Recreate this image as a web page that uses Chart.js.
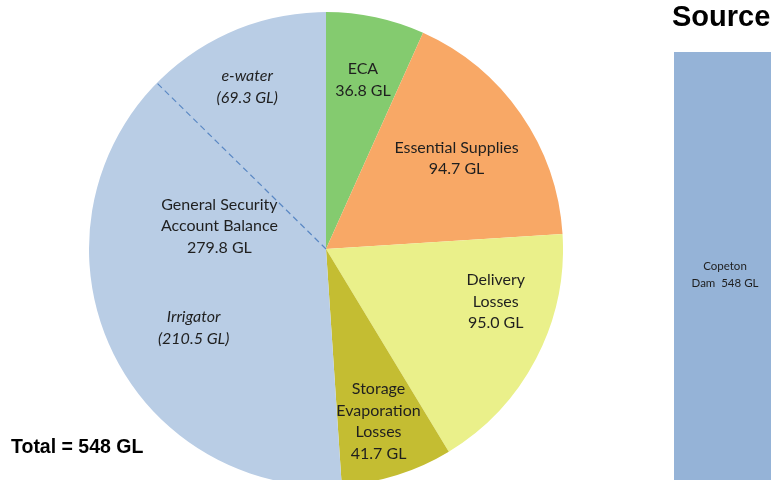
<!DOCTYPE html>
<html>
<head>
<meta charset="utf-8">
<script src="https://cdn.jsdelivr.net/npm/chart.js@4"></script>
<style>
  html, body { margin: 0; padding: 0; background: #fff; }
  body { width: 771px; height: 480px; position: relative; overflow: hidden; }
  #pieBox { position: absolute; left: 89px; top: 12px; width: 474px; height: 474px; }
  #barBox { position: absolute; left: 674px; top: 0; width: 102px; height: 496px; }
  .total { position: absolute; left: 11px; top: 435px; font: bold 19.5px "Liberation Sans", Arial, sans-serif; color: #000; }
  .source { position: absolute; left: 672px; top: 0px; font: bold 29px "Liberation Sans", Arial, sans-serif; color: #000; white-space: nowrap; }
</style>
</head>
<body>
<div id="pieBox"><canvas id="pie" width="474" height="474"></canvas></div>
<div id="barBox"><canvas id="bar" width="102" height="496"></canvas></div>
<div class="total">Total = 548 GL</div>
<div class="source">Source</div>
<script>
// ---- data (GL) ----
const categories = ["ECA", "Essential Supplies", "Delivery Losses", "Storage Evaporation Losses", "General Security Account Balance"];
const volumes = [36.8, 94.7, 95.0, 41.7, 279.8];
const labelLines = [["ECA"], ["Essential Supplies"], ["Delivery", "Losses"], ["Storage", "Evaporation", "Losses"], ["General Security", "Account Balance"]];
const splitNames = ["e-water", "Irrigator"];   // parts of General Security
const splitVolumes = [69.3, 210.5];
const sourceNames = ["Copeton Dam"];
const sourceVolumes = [548];

const colors = ["#84CB6F", "#F8A866", "#EAF08A", "#C4BD32", "#B9CDE5"];
// label placement: [fraction along arc, fraction of radius]
const labelSpots = [[0.51, 0.73], [0.5, 0.67], [0.335, 0.75], [0.52, 0.76], [0.576, 0.46]];
const splitSpots = [[0.43, 0.76], [0.456, 0.65]];

const FONT = '16px Lato, "Open Sans", sans-serif';
const LINE_H = 21.5;

function drawLines(ctx, lines, x, y, font) {
  ctx.font = font;
  const top = y - (lines.length - 1) * LINE_H / 2;
  lines.forEach((t, i) => ctx.fillText(t, x, top + i * LINE_H));
}

const pieLabels = {
  id: "pieLabels",
  afterDatasetsDraw(chart) {
    const ctx = chart.ctx;
    const arcs = chart.getDatasetMeta(0).data;
    ctx.save();
    ctx.fillStyle = "#1f1f1f";
    ctx.textAlign = "center";
    ctx.textBaseline = "middle";

    arcs.forEach((arc, i) => {
      const [af, rf] = labelSpots[i];
      const a = arc.startAngle + af * (arc.endAngle - arc.startAngle);
      const r = rf * arc.outerRadius;
      const lines = labelLines[i].concat([volumes[i].toFixed(1) + " GL"]);
      drawLines(ctx, lines, arc.x + r * Math.cos(a), arc.y + r * Math.sin(a), FONT);
    });

    // split of general security into e-water / irrigator
    const gs = arcs[4];
    const span = gs.endAngle - gs.startAngle;
    const cut = gs.startAngle + span * splitVolumes[1] / volumes[4];
    ctx.strokeStyle = "#5A88C4";
    ctx.lineWidth = 1.2;
    ctx.setLineDash([6, 4]);
    ctx.beginPath();
    ctx.moveTo(gs.x, gs.y);
    ctx.lineTo(gs.x + gs.outerRadius * Math.cos(cut), gs.y + gs.outerRadius * Math.sin(cut));
    ctx.stroke();
    ctx.setLineDash([]);

    const ranges = [[cut, gs.endAngle], [gs.startAngle, cut]];
    splitNames.forEach((name, i) => {
      const [s, e] = ranges[i];
      const [af, rf] = splitSpots[i];
      const a = s + af * (e - s);
      const r = rf * gs.outerRadius;
      drawLines(ctx, [name, "(" + splitVolumes[i].toFixed(1) + " GL)"],
        gs.x + r * Math.cos(a), gs.y + r * Math.sin(a), "italic " + FONT);
    });
    ctx.restore();
  }
};

new Chart(document.getElementById("pie"), {
  type: "pie",
  data: {
    labels: categories,
    datasets: [{ data: volumes, backgroundColor: colors, borderWidth: 0 }]
  },
  options: {
    responsive: false, animation: false, devicePixelRatio: 1,
    layout: { padding: 0 },
    plugins: { legend: { display: false }, tooltip: { enabled: false } }
  },
  plugins: [pieLabels]
});

const barLabel = {
  id: "barLabel",
  afterDatasetsDraw(chart) {
    const ctx = chart.ctx;
    const b = chart.getDatasetMeta(0).data[0];
    const y = (b.y + b.base) / 2;
    ctx.save();
    ctx.fillStyle = "#1f1f1f";
    ctx.textAlign = "center";
    ctx.textBaseline = "middle";
    ctx.font = '11.5px Lato, "Open Sans", sans-serif';
    ctx.fillText("Copeton", b.x, y - 8);
    ctx.fillText("Dam  " + sourceVolumes[0] + " GL", b.x, y + 9);
    ctx.restore();
  }
};

new Chart(document.getElementById("bar"), {
  type: "bar",
  data: {
    labels: sourceNames,
    datasets: [{ data: sourceVolumes, backgroundColor: "#95B3D7", barPercentage: 1, categoryPercentage: 1 }]
  },
  options: {
    responsive: false, animation: false, devicePixelRatio: 1,
    layout: { padding: { top: 52, left: 0, right: 0, bottom: 0 } },
    scales: {
      x: { display: false },
      y: { display: false, min: 0, max: 548 }
    },
    plugins: { legend: { display: false }, tooltip: { enabled: false } }
  },
  plugins: [barLabel]
});
</script>
</body>
</html>
